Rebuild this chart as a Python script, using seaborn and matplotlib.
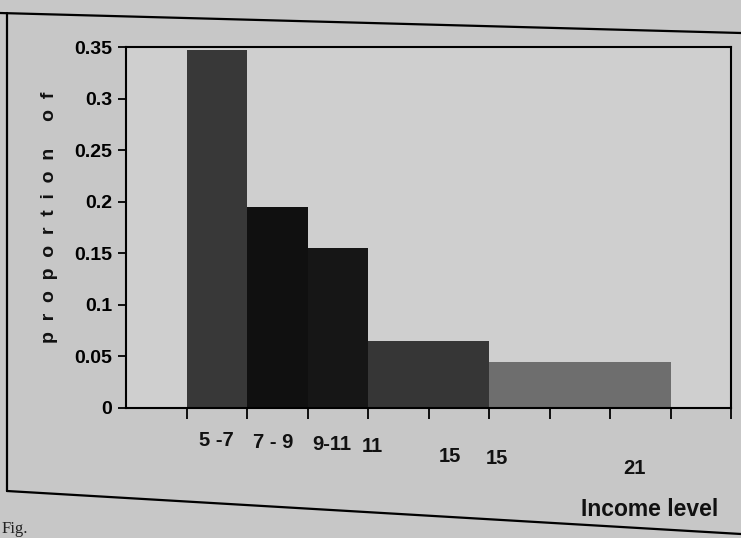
import numpy as np
import pandas as pd
import matplotlib
matplotlib.use("Agg")
import matplotlib.pyplot as plt
import matplotlib.transforms as mtransforms
from matplotlib.lines import Line2D
import seaborn as sns

# ---- data ----
bin_edges = [5, 7, 9, 11, 15, 21]
proportions = [0.347, 0.195, 0.155, 0.065, 0.045]
bar_colors = ["#383838", "#101010", "#161616", "#363636", "#6e6e6e"]
xtick_labels = ["5 -7", "7 - 9", "9-11", "11", "15", "15", "21"]
ytick_values = [0, 0.05, 0.1, 0.15, 0.2, 0.25, 0.3, 0.35]
ytick_labels = ["0", "0.05", "0.1", "0.15", "0.2", "0.25", "0.3", "0.35"]

# label placement (styling)
xlabel_pos = [6.0, 7.85, 9.8, 11.15, 13.7, 15.25, 19.8]
xlabel_ypx = [441, 442, 444, 446, 457, 459, 468]

sns.set_theme(style="ticks")
plt.rcParams["font.family"] = ["Liberation Sans", "DejaVu Sans"]

W, H = 741, 538
fig = plt.figure(figsize=(W / 100, H / 100), dpi=100)
fig.patch.set_facecolor("#c7c7c7")

L, R, T, B = 126, 731, 47, 408
ax = fig.add_axes([L / W, 1 - B / H, (R - L) / W, (B - T) / H])
ax.set_facecolor("#cfcfcf")

mids = [(a + b) / 2 for a, b in zip(bin_edges[:-1], bin_edges[1:])]
df = pd.DataFrame({"mid": mids, "prop": proportions})
sns.histplot(data=df, x="mid", weights="prop", bins=bin_edges, stat="count",
             element="bars", fill=True, linewidth=0, alpha=1, ax=ax)
for p, c in zip(ax.patches, bar_colors):
    p.set_facecolor(c)
    p.set_edgecolor(c)

ax.set_xlim(3, 23)
ax.set_ylim(0, 0.35)
for s in ax.spines.values():
    s.set_visible(True)
    s.set_color("black")
    s.set_linewidth(1.5)

ax.set_yticks(ytick_values)
ax.set_yticklabels(ytick_labels, fontsize=14, fontweight="bold", color="#111111")
ax.tick_params(axis="y", direction="out", length=6, width=1.3, pad=4, colors="black")
ax.set_xticks([])
ax.set_xticks(np.arange(5, 24, 2), minor=True)
ax.tick_params(axis="x", which="minor", direction="out", length=8, width=1.3, colors="black")
ax.set_xlabel("")
ax.set_ylabel("")

tr = mtransforms.blended_transform_factory(ax.transData, fig.transFigure)
for lab, xp, ypx in zip(xtick_labels, xlabel_pos, xlabel_ypx):
    ax.text(xp, 1 - ypx / H, lab, transform=tr, fontsize=14.5,
            fontweight="bold", color="#111111", ha="center", va="center")

fig.text(50 / W, 1 - 217 / H, "p  r  o  p  o  r  t  i  o  n     o  f", rotation=90,
         fontsize=14, fontweight="bold", color="#111111", ha="center", va="center")
fig.text(718 / W, 1 - 510 / H, "Income level", fontsize=16.5, fontweight="bold",
         color="#111111", ha="right", va="center")

# outer frame of the figure box
def fline(x0, y0, x1, y1):
    fig.add_artist(Line2D([x0 / W, x1 / W], [1 - y0 / H, 1 - y1 / H],
                          transform=fig.transFigure, color="black", linewidth=1.6))

fline(0, 13, 741, 33)
fline(7, 13, 7, 491)
fline(7, 491, 741, 534)

fig.text(2 / W, 1 - 521 / H, "Fig.", fontsize=12, family="Liberation Serif",
         color="#222222", ha="left", va="top")

fig.savefig("out.png", dpi=100, facecolor=fig.get_facecolor())
